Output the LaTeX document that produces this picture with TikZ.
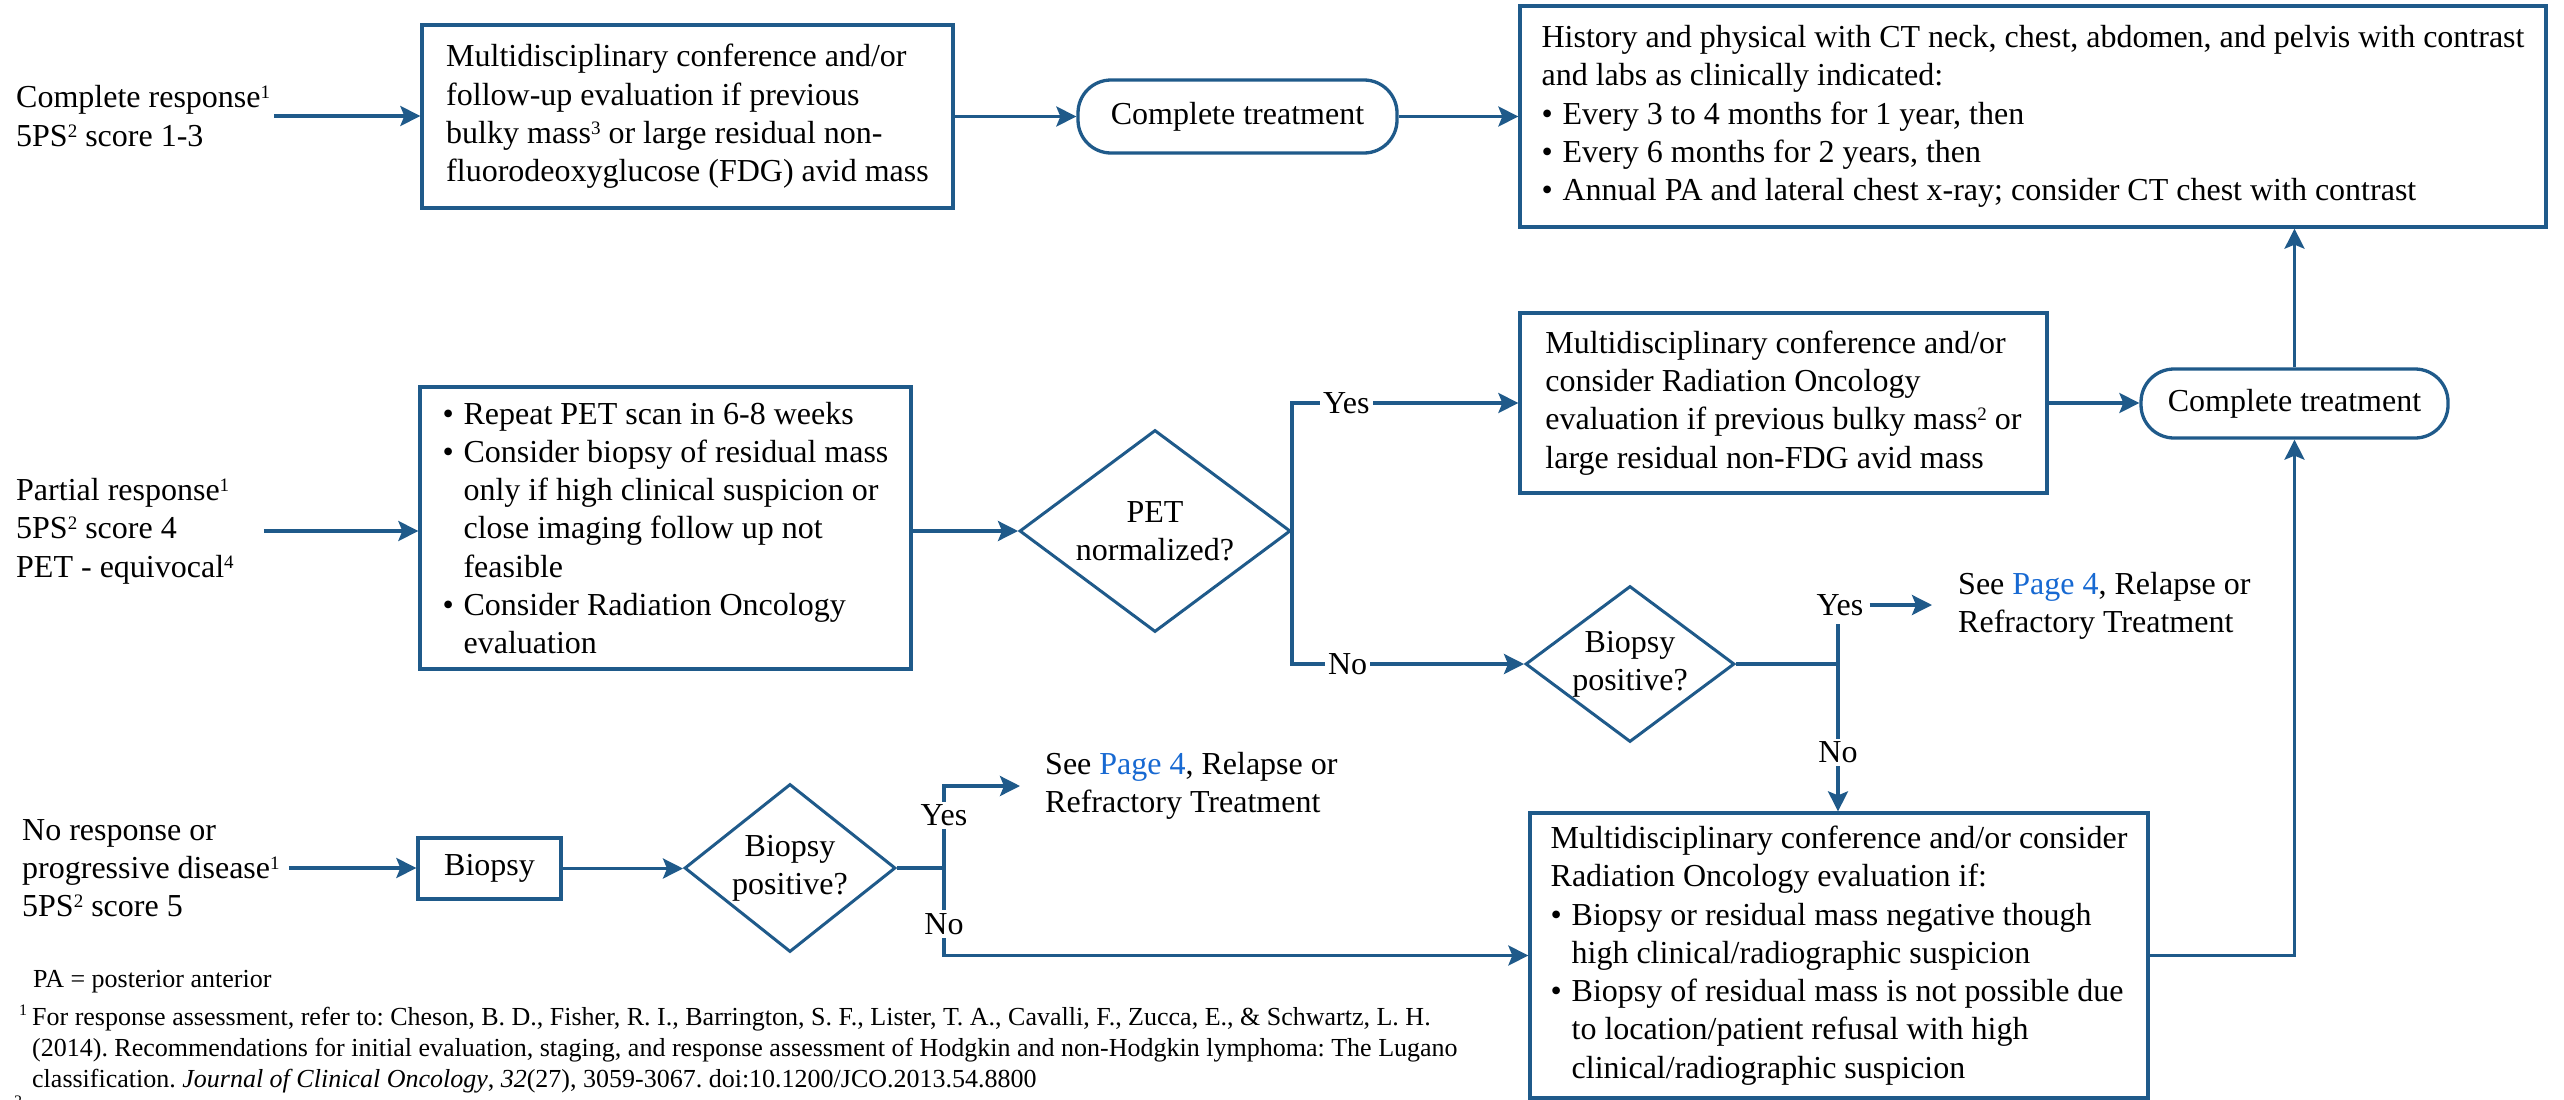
\documentclass[tikz,border=0pt]{standalone}
\usepackage{fontspec}
\setmainfont{Liberation Serif}
\usetikzlibrary{arrows.meta,shapes.geometric}
\definecolor{flow}{HTML}{1F5A8A}
\definecolor{linkblue}{HTML}{1769D2}
\frenchspacing
\newcommand\bodysize{\fontsize{32pt}{38.3pt}\selectfont}
\newcommand\notesize{\fontsize{26pt}{31pt}\selectfont}
\newcommand\sups[1]{\raisebox{9pt}{\fontsize{19pt}{19pt}\selectfont #1}}
\newcommand\bulitem{\makebox[21pt][l]{\textbullet}}
\newcommand\indt{\hspace*{21pt}}
\begin{document}
\begin{tikzpicture}[x=1pt,y=-1pt,
  every node/.style={font=\bodysize, text=black},
  box/.style={draw=flow, line width=3.3pt, fill=white, align=left, inner sep=0pt},
  term/.style={draw=flow, line width=3.3pt, rounded corners=33pt, fill=white, align=center, inner sep=0pt},
  query/.style={diamond, draw=flow, line width=3pt, fill=white, align=center, inner sep=0pt},
  freetext/.style={align=left, inner sep=0pt},
  conn/.style={draw=flow, line width=3.3pt},
  arr/.style={conn, -{Stealth[length=20pt,width=20pt,inset=4pt]}},
  lbl/.style={fill=white, inner sep=3pt},
]
\fill[white] (0,0) rectangle (2564,1100);
\useasboundingbox (0,0) rectangle (2564,1100);

% ---- complete response row
\node[freetext, anchor=west] (t1) at (16,116) {Complete response\sups{1}\\5PS\sups{2} score 1-3};
\node[box, minimum width=531pt, minimum height=183pt] (b1) at (687.5,116.5)
  {Multidisciplinary conference and/or\\follow-up evaluation if previous\\bulky mass\sups{3} or large residual non-\\fluorodeoxyglucose (FDG) avid mass};
\node[term, minimum width=319pt, minimum height=73pt] (ct1) at (1237.5,116.5) {Complete treatment};
\node[box, minimum width=1026pt, minimum height=221pt] (fu) at (2033,116.5)
  {History and physical with CT neck, chest, abdomen, and pelvis with contrast\\and labs as clinically indicated:\\\bulitem Every 3 to 4 months for 1 year, then\\\bulitem Every 6 months for 2 years, then\\\bulitem Annual PA and lateral chest x-ray; consider CT chest with contrast};

% ---- partial response row
\node[freetext, anchor=west] (t2) at (16,531) {Partial response\sups{1}\\5PS\sups{2} score 4\\PET - equivocal\sups{4}};
\node[box, minimum width=491pt, minimum height=282pt] (b3) at (665.5,528)
  {\bulitem Repeat PET scan in 6-8 weeks\\\bulitem Consider biopsy of residual mass\\\indt only if high clinical suspicion or\\\indt close imaging follow up not\\\indt feasible\\\bulitem Consider Radiation Oncology\\\indt evaluation};
\node[query, aspect=1.34, minimum width=271pt, minimum height=202pt] (d1) at (1155,531) {PET\\normalized?};
\node[box, minimum width=527pt, minimum height=180pt] (b4) at (1783.5,403)
  {Multidisciplinary conference and/or\\consider Radiation Oncology\\evaluation if previous bulky mass\sups{2} or\\large residual non-FDG avid mass};
\node[term, minimum width=307pt, minimum height=69pt] (ct2) at (2294.5,403.5) {Complete treatment};
\node[query, aspect=1.34, minimum width=209pt, minimum height=156pt] (d2) at (1630,664) {Biopsy\\positive?};
\node[freetext] (y2) at (1840,605) {Yes};
\node[freetext, anchor=west] (s2) at (1958,606) {See \textcolor{linkblue}{Page 4}, Relapse or\\Refractory Treatment};

% ---- no response row
\node[freetext, anchor=west] (t3) at (22,868) {No response or\\progressive disease\sups{1}\\5PS\sups{2} score 5};
\node[box, align=center, minimum width=143pt, minimum height=61pt] (bx) at (489.5,868.5) {Biopsy};
\node[query, aspect=1.256, minimum width=211pt, minimum height=168pt] (d3) at (790,868) {Biopsy\\positive?};
\node[freetext, anchor=west] (s3) at (1045,786) {See \textcolor{linkblue}{Page 4}, Relapse or\\Refractory Treatment};
\node[box, minimum width=618pt, minimum height=285pt] (b5) at (1839,955.5)
  {Multidisciplinary conference and/or consider\\Radiation Oncology evaluation if:\\\bulitem Biopsy or residual mass negative though\\\indt high clinical/radiographic suspicion\\\bulitem Biopsy of residual mass is not possible due\\\indt to location/patient refusal with high\\\indt clinical/radiographic suspicion};

% ---- footnotes
\node[freetext, font=\notesize, anchor=west] (pa) at (33,982) {PA = posterior anterior};
\node[freetext, font=\notesize, anchor=west] (fn1) at (32,1049)
  {\llap{\raisebox{10pt}{\fontsize{16pt}{16pt}\selectfont 1}\hspace{5pt}}For response assessment, refer to: Cheson, B. D., Fisher, R. I., Barrington, S. F., Lister, T. A., Cavalli, F., Zucca, E., \& Schwartz, L. H.\\(2014). Recommendations for initial evaluation, staging, and response assessment of Hodgkin and non-Hodgkin lymphoma: The Lugano\\classification. \textit{Journal of Clinical Oncology}, \textit{32}(27), 3059-3067. doi:10.1200/JCO.2013.54.8800};
\begin{scope}
  \clip (0,0) rectangle (2564,1100);
  \node[freetext, anchor=north west] (fn2) at (14,1096) {\fontsize{16pt}{16pt}\selectfont 2};
\end{scope}

% ---- connectors
\draw[arr, shorten <=4pt] (t1.east) -- (t1.east -| b1.west);
\draw[arr] (b1.east) -- (ct1.west);
\draw[arr] (ct1.east) -- (ct1.east -| fu.west);

\draw[arr, shorten <=30pt] (t2.east) -- (t2.east -| b3.west);
\draw[arr] (b3.east |- d1.west) -- (d1.west);
\draw[arr] (d1.east) |- node[lbl, pos=0.62] {Yes} (b4.west);
\draw[arr] (d1.east) |- node[lbl, pos=0.62] {No} (d2.west);
\draw[arr] (b4.east) -- (b4.east -| ct2.west);
\coordinate (j2) at (1838,664);
\draw[conn] (d2.east) -- (j2);
\draw[conn, shorten >=8pt] (j2) -- (j2 |- y2.south);
\draw[arr, shorten <=6pt, shorten >=26pt] (y2.east) -- (y2.east -| s2.west);
\draw[arr] (j2) -- node[lbl, pos=0.6] {No} (j2 |- b5.north);
\draw[arr] (b5.east) -| (ct2.south);
\draw[arr] (ct2.north) -- (ct2.north |- fu.south);

\draw[arr, shorten <=9pt] (t3.east) -- (t3.east -| bx.west);
\draw[arr] (bx.east) -- (bx.east -| d3.west);
\coordinate (j3) at (944,868);
\draw[conn] (d3.east) -- (j3);
\draw[arr, shorten >=25pt] (j3) |- node[lbl, pos=0.32] {Yes} (s3.west);
\draw[arr] (j3) |- node[lbl, pos=0.32] {No} (b5.west);
\end{tikzpicture}
\end{document}
